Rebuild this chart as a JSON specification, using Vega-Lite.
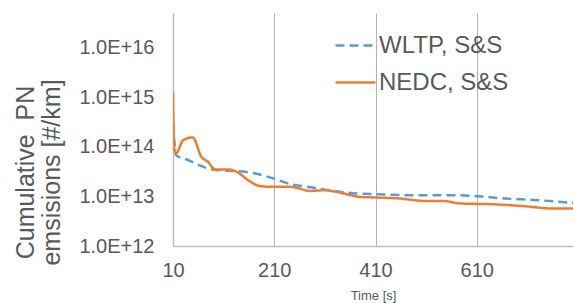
{
  "$schema": "https://vega.github.io/schema/vega-lite/v6.json",
  "autosize": {"type": "none"},
  "width": 400,
  "height": 233,
  "padding": {"left": 173, "top": 13, "right": 1, "bottom": 57},
  "background": "white",
  "config": {
    "view": {"stroke": null},
    "font": "Liberation Sans",
    "axis": {"labelColor": "#595959", "titleColor": "#595959", "labelFont": "Liberation Sans", "titleFont": "Liberation Sans", "titleFontWeight": "normal"},
    "legend": {"labelColor": "#595959", "labelFont": "Liberation Sans"}
  },
  "data": {
    "values": [
      {"series": "WLTP, S&S", "t": 10, "pn": 3.0e14},
      {"series": "WLTP, S&S", "t": 12, "pn": 1.6e14},
      {"series": "WLTP, S&S", "t": 16, "pn": 6.8e13},
      {"series": "WLTP, S&S", "t": 40, "pn": 5.4e13},
      {"series": "WLTP, S&S", "t": 66, "pn": 4.1e13},
      {"series": "WLTP, S&S", "t": 93, "pn": 3.4e13},
      {"series": "WLTP, S&S", "t": 120, "pn": 3.3e13},
      {"series": "WLTP, S&S", "t": 155, "pn": 3.1e13},
      {"series": "WLTP, S&S", "t": 191, "pn": 2.6e13},
      {"series": "WLTP, S&S", "t": 214, "pn": 2.2e13},
      {"series": "WLTP, S&S", "t": 242, "pn": 1.76e13},
      {"series": "WLTP, S&S", "t": 275, "pn": 1.56e13},
      {"series": "WLTP, S&S", "t": 308, "pn": 1.38e13},
      {"series": "WLTP, S&S", "t": 342, "pn": 1.23e13},
      {"series": "WLTP, S&S", "t": 368, "pn": 1.15e13},
      {"series": "WLTP, S&S", "t": 408, "pn": 1.11e13},
      {"series": "WLTP, S&S", "t": 474, "pn": 1.06e13},
      {"series": "WLTP, S&S", "t": 573, "pn": 1.06e13},
      {"series": "WLTP, S&S", "t": 605, "pn": 1.02e13},
      {"series": "WLTP, S&S", "t": 664, "pn": 9.1e12},
      {"series": "WLTP, S&S", "t": 730, "pn": 8.4e12},
      {"series": "WLTP, S&S", "t": 800, "pn": 7.4e12},
      {"series": "NEDC, S&S", "t": 10, "pn": 1.3e15},
      {"series": "NEDC, S&S", "t": 12, "pn": 1.0e14},
      {"series": "NEDC, S&S", "t": 16, "pn": 7.4e13},
      {"series": "NEDC, S&S", "t": 30, "pn": 1.36e14},
      {"series": "NEDC, S&S", "t": 49, "pn": 1.55e14},
      {"series": "NEDC, S&S", "t": 66, "pn": 6.3e13},
      {"series": "NEDC, S&S", "t": 79, "pn": 5.0e13},
      {"series": "NEDC, S&S", "t": 93, "pn": 3.5e13},
      {"series": "NEDC, S&S", "t": 119, "pn": 3.5e13},
      {"series": "NEDC, S&S", "t": 139, "pn": 3.0e13},
      {"series": "NEDC, S&S", "t": 159, "pn": 2.1e13},
      {"series": "NEDC, S&S", "t": 183, "pn": 1.61e13},
      {"series": "NEDC, S&S", "t": 209, "pn": 1.56e13},
      {"series": "NEDC, S&S", "t": 242, "pn": 1.56e13},
      {"series": "NEDC, S&S", "t": 282, "pn": 1.29e13},
      {"series": "NEDC, S&S", "t": 308, "pn": 1.33e13},
      {"series": "NEDC, S&S", "t": 334, "pn": 1.23e13},
      {"series": "NEDC, S&S", "t": 361, "pn": 1.06e13},
      {"series": "NEDC, S&S", "t": 377, "pn": 9.8e12},
      {"series": "NEDC, S&S", "t": 410, "pn": 9.5e12},
      {"series": "NEDC, S&S", "t": 456, "pn": 9.1e12},
      {"series": "NEDC, S&S", "t": 509, "pn": 8.1e12},
      {"series": "NEDC, S&S", "t": 542, "pn": 8.1e12},
      {"series": "NEDC, S&S", "t": 578, "pn": 7.2e12},
      {"series": "NEDC, S&S", "t": 641, "pn": 6.95e12},
      {"series": "NEDC, S&S", "t": 707, "pn": 6.3e12},
      {"series": "NEDC, S&S", "t": 759, "pn": 5.7e12},
      {"series": "NEDC, S&S", "t": 800, "pn": 5.7e12}
    ]
  },
  "mark": {"type": "line", "strokeWidth": 2.5, "interpolate": "monotone", "clip": true},
  "encoding": {
    "x": {
      "field": "t", "type": "quantitative",
      "scale": {"domain": [10, 800], "nice": false, "zero": false},
      "axis": {
        "values": [10, 210, 410, 610],
        "title": "Time [s]",
        "titleFontSize": 13,
        "titleY": 53,
        "titleBaseline": "alphabetic",
        "labelFontSize": 20,
        "labelPadding": 14,
        "labelFlush": false,
        "labelOverlap": false,
        "ticks": false,
        "grid": true,
        "gridColor": "#B3B3B3",
        "gridWidth": 1,
        "domainColor": "#BFBFBF",
        "domainWidth": 1.5
      }
    },
    "y": {
      "field": "pn", "type": "quantitative",
      "scale": {"type": "log", "domain": [1e12, 5e16], "nice": false},
      "axis": {
        "values": [1e12, 1e13, 1e14, 1e15, 1e16],
        "labelExpr": "'1.0E+' + round(log(datum.value) / LN10)",
        "title": ["Cumulative\u00a0 PN", "emsisions [#/km]"],
        "titleFontSize": 25,
        "titleLineHeight": 26,
        "titleAngle": -90,
        "titleAlign": "center",
        "titleBaseline": "alphabetic",
        "titleX": -140,
        "titleY": 159,
        "labelFontSize": 20,
        "labelPadding": 19,
        "ticks": false,
        "grid": false,
        "domainColor": "#BFBFBF",
        "domainWidth": 1.5
      }
    },
    "color": {
      "field": "series", "type": "nominal",
      "scale": {"domain": ["WLTP, S&S", "NEDC, S&S"], "range": ["#5B9BD5", "#ED7D31"]},
      "legend": {
        "title": null,
        "orient": "none",
        "legendX": 161,
        "legendY": 11,
        "symbolType": "stroke",
        "symbolSize": 1600,
        "symbolStrokeWidth": 2.5,
        "labelFontSize": 24,
        "labelOffset": 2,
        "rowPadding": 3,
        "padding": 0
      }
    },
    "strokeDash": {
      "field": "series", "type": "nominal",
      "scale": {"domain": ["WLTP, S&S", "NEDC, S&S"], "range": [[9, 5], [1, 0]]},
      "legend": {
        "title": null,
        "orient": "none",
        "legendX": 161,
        "legendY": 11,
        "symbolType": "stroke",
        "symbolSize": 1600,
        "symbolStrokeWidth": 2.5,
        "labelFontSize": 24,
        "labelOffset": 2,
        "rowPadding": 3,
        "padding": 0
      }
    }
  }
}
